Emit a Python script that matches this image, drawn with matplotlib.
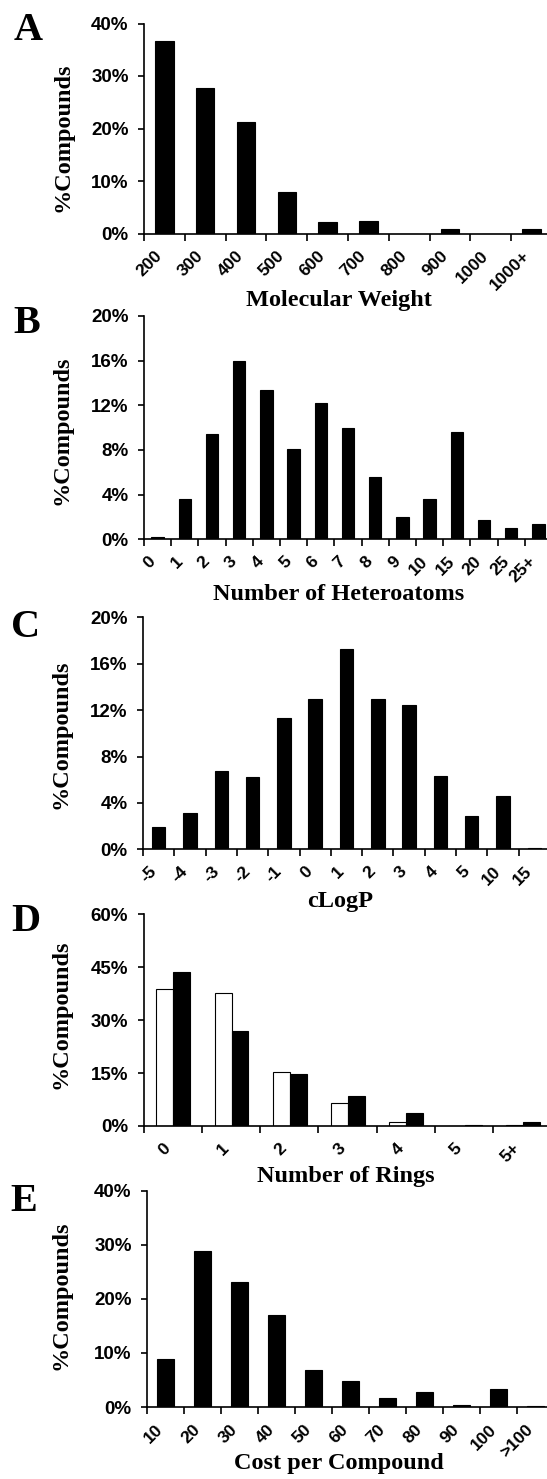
import matplotlib
matplotlib.use("Agg")
import matplotlib.pyplot as plt
from matplotlib.transforms import ScaledTranslation
import numpy as np

# ---------------- data ----------------
mw_labels = ["200", "300", "400", "500", "600", "700", "800", "900", "1000", "1000+"]
mw_values = [36.7, 27.7, 21.3, 7.9, 2.2, 2.3, 0.0, 0.9, 0.0, 0.8]

het_labels = ["0", "1", "2", "3", "4", "5", "6", "7", "8", "9", "10", "15", "20", "25", "25+"]
het_values = [0.25, 3.6, 9.4, 16.0, 13.4, 8.1, 12.2, 10.0, 5.6, 2.0, 3.6, 9.6, 1.7, 1.0, 1.4]

clogp_labels = ["-5", "-4", "-3", "-2", "-1", "0", "1", "2", "3", "4", "5", "10", "15"]
clogp_values = [1.95, 3.1, 6.75, 6.2, 11.3, 13.0, 17.3, 12.95, 12.4, 6.3, 2.9, 4.6, 0.15]

ring_labels = ["0", "1", "2", "3", "4", "5", "5+"]
ring_values_open = [38.9, 37.6, 15.4, 6.6, 1.0, 0.0, 0.2]
ring_values_filled = [43.7, 27.0, 14.6, 8.4, 3.8, 0.3, 1.0]

cost_labels = ["10", "20", "30", "40", "50", "60", "70", "80", "90", "100", ">100"]
cost_values = [8.95, 28.9, 23.1, 17.0, 6.85, 4.9, 1.7, 2.85, 0.4, 3.4, 0.1]

yticks_a = [0, 10, 20, 30, 40]
yticks_b = [0, 4, 8, 12, 16, 20]
yticks_c = [0, 4, 8, 12, 16, 20]
yticks_d = [0, 15, 30, 45, 60]
yticks_e = [0, 10, 20, 30, 40]

panel_letters = ["A", "B", "C", "D", "E"]
x_titles = ["Molecular Weight", "Number of Heteroatoms", "cLogP",
            "Number of Rings", "Cost per Compound"]
y_title = "%Compounds"

# ---------------- layout ----------------
W, H = 547, 1479
fig = plt.figure(figsize=(W / 100, H / 100), dpi=100)

SERIF = ["Liberation Serif", "DejaVu Serif"]
SANS = ["Liberation Sans", "DejaVu Sans"]
LW = 1.2


def px_axes(left, top, bottom, width):
    return fig.add_axes([left / W, 1 - bottom / H, width / W, (bottom - top) / H])


def style(ax, labels, yticks):
    n = len(labels)
    ax.set_xlim(0, n)
    ax.set_ylim(yticks[0], yticks[-1])
    for s in ("top", "right"):
        ax.spines[s].set_visible(False)
    for s in ("left", "bottom"):
        ax.spines[s].set_linewidth(LW)
    # boundary ticks (major), labels at category centres (minor)
    ax.set_xticks(np.arange(n + 1))
    ax.set_xticklabels([])
    ax.set_xticks(np.arange(n) + 0.5, labels, minor=True)
    ax.tick_params(axis="x", which="major", direction="out", length=5, width=LW)
    ax.tick_params(axis="x", which="minor", length=0, pad=10.5)
    for t in ax.get_xticklabels(minor=True):
        t.set_rotation(45)
        t.set_ha("right")
        t.set_va("top")
        t.set_rotation_mode("anchor")
        t.set_fontfamily(SANS)
        t.set_fontweight("bold")
        t.set_fontsize(12.5)
        t.set_transform(t.get_transform() + ScaledTranslation(-10 / 100, 0, fig.dpi_scale_trans))
    ax.set_yticks(yticks, [f"{v}%" for v in yticks])
    ax.tick_params(axis="y", direction="out", length=4, width=LW, pad=7)
    for t in ax.get_yticklabels():
        t.set_fontfamily(SANS)
        t.set_fontweight("bold")
        t.set_fontsize(13.5)


# axes geometry in pixels: left, top (max tick), bottom (0 %), width
geo = [
    (144.0, 23.5, 233.5, 408),
    (144.0, 316.0, 539.3, 408),
    (143.0, 617.3, 849.3, 407),
    (143.5, 914.3, 1126.0, 408),
    (147.0, 1190.7, 1407.0, 407),
]

letter_pos = [(28, 40), (27, 333), (26, 637), (26, 931), (24, 1211)]
xtitle_pos = [(339, 306), (339, 600), (340, 907), (346, 1182), (339, 1469)]
ytitle_pos = [(62.5, 137), (61.6, 430), (60.5, 734), (60.5, 1014), (60.5, 1295)]

BW = 0.45

# A
ax = px_axes(*geo[0][:3], geo[0][3])
x = np.arange(len(mw_labels))
ax.bar(x + 0.5, mw_values, width=BW, color="black", edgecolor="black", linewidth=0.8)
style(ax, mw_labels, yticks_a)

# B
ax = px_axes(*geo[1][:3], geo[1][3])
x = np.arange(len(het_labels))
ax.bar(x + 0.5, het_values, width=BW, color="black", edgecolor="black", linewidth=0.8)
style(ax, het_labels, yticks_b)

# C
ax = px_axes(*geo[2][:3], geo[2][3])
x = np.arange(len(clogp_labels))
ax.bar(x + 0.5, clogp_values, width=0.43, color="black", edgecolor="black", linewidth=0.8)
style(ax, clogp_labels, yticks_c)

# D
ax = px_axes(*geo[3][:3], geo[3][3])
x = np.arange(len(ring_labels))
ax.bar(x + 0.365, ring_values_open, width=0.29, color="white", edgecolor="black", linewidth=0.8)
ax.bar(x + 0.655, ring_values_filled, width=0.29, color="black", edgecolor="black", linewidth=0.8)
style(ax, ring_labels, yticks_d)

# E
ax = px_axes(*geo[4][:3], geo[4][3])
x = np.arange(len(cost_labels))
ax.bar(x + 0.5, cost_values, width=0.44, color="black", edgecolor="black", linewidth=0.8)
style(ax, cost_labels, yticks_e)

# texts
for i in range(5):
    lx, ly = letter_pos[i]
    fig.text(lx / W, 1 - ly / H, panel_letters[i], ha="center", va="baseline",
             family=SERIF, fontweight="bold", fontsize=29)
    tx, ty = xtitle_pos[i]
    fig.text(tx / W, 1 - ty / H, x_titles[i], ha="center", va="baseline",
             family=SERIF, fontweight="bold", fontsize=17.5)
    yx, yy = ytitle_pos[i]
    fig.text(yx / W, 1 - yy / H, y_title, ha="center", va="center", rotation=90,
             family=SERIF, fontweight="bold", fontsize=17.5)

fig.savefig("out.png", dpi=100, facecolor="white")
